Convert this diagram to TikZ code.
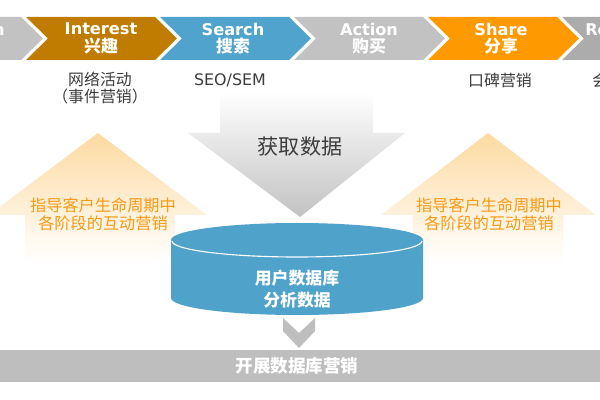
\documentclass[tikz,border=0pt]{standalone}
\usepackage{fontspec}
\setmainfont{Noto Sans CJK SC}
\newfontfamily\latfont{DejaVu Sans}

\definecolor{chevgray}{RGB}{194,194,194}
\definecolor{chevbrown}{RGB}{192,124,0}
\definecolor{chevblue}{RGB}{79,163,204}
\definecolor{chevorange}{RGB}{255,153,0}
\definecolor{chevdark}{RGB}{172,172,172}
\definecolor{peach}{RGB}{253,218,160}
\definecolor{guideorange}{RGB}{247,154,22}
\definecolor{dbblue}{RGB}{79,162,202}
\definecolor{bargray}{RGB}{190,190,190}
\definecolor{darktext}{RGB}{60,60,60}

\tikzset{
    chevtitle/.style={text=white, inner sep=0pt, font=\latfont\bfseries\fontsize{11.5}{12}\selectfont},
    chevsub/.style={text=white, inner sep=0pt, font=\bfseries\fontsize{12}{12}\selectfont},
    stagenote/.style={text=darktext, inner sep=0pt, align=center, font=\fontsize{11.3}{12}\selectfont},
    guidetext/.style={text=guideorange, inner sep=0pt, align=center, font=\fontsize{11.5}{12.8}\selectfont},
    dbtext/.style={text=white, inner sep=0pt, align=center, font=\bfseries\fontsize{12}{15.6}\selectfont},
    guidearrow/.style={top color=peach, bottom color=white},
}

\begin{document}
\begin{tikzpicture}[x=0.025cm, y=-0.025cm]

    \useasboundingbox (0,0) rectangle (600,400);
    \clip (0,0) rectangle (600,400);

    \foreach \l/\c in {-108/chevgray, 26/chevbrown, 160/chevblue, 294/chevgray, 428/chevorange, 562/chevdark}
        \fill[\c] (\l,17) -- ++(129,0) -- ++(22,21.5) -- ++(-22,21.5) -- ++(-129,0) -- ++(22,-21.5) -- cycle;

    \foreach \x/\en/\zh in {101/Interest/兴趣, 233/Search/搜索, 369/Action/购买, 501/Share/分享}
    {
        \node[chevtitle] (title-\en) at (\x,29) {\en};
        \node[chevsub] (sub-\en) at (\x,46) {\zh};
    }
    \node[chevtitle, anchor=east] (title-attention) at (5,29) {Attention};
    \node[chevtitle, anchor=west] (title-retention) at (585,29) {Retention};

    \node[stagenote] (note-interest) at (100,88) {网络活动\\（事件营销）};
    \node[stagenote, font=\latfont\fontsize{11.3}{12}\selectfont] (note-search) at (230,80) {SEO/SEM};
    \node[stagenote] (note-share) at (500,80) {口碑营销};
    \node[stagenote, anchor=west] (note-retention) at (592,80) {会员营销};

    \shade[top color=white, bottom color=black!24]
        (220,92) -- (373,92) -- (373,133) -- (405,133) -- (300,217) -- (188,133) -- (220,133) -- cycle;
    \node[text=darktext, inner sep=0pt, font=\fontsize{15}{15}\selectfont] (fetch) at (300,147) {获取数据};

    \shade[guidearrow] (25,262) -- (25,215) -- (-11,215) -- (98,133) -- (207,215) -- (175,215) -- (175,262) -- cycle;
    \shade[guidearrow] (413,262) -- (413,215) -- (381,215) -- (488,133) -- (596,215) -- (563,215) -- (563,262) -- cycle;
    \node[guidetext] (guide-left) at (103,214) {指导客户生命周期中\\各阶段的互动营销};
    \node[guidetext] (guide-right) at (489,214) {指导客户生命周期中\\各阶段的互动营销};

    \fill[dbblue] (171,240) -- (171,298) arc[start angle=180, end angle=0, x radius=126, y radius=17] -- (423,240) -- cycle;
    \fill[dbblue] (297,240) ellipse[x radius=126, y radius=17];
    \draw[white, line width=0.8pt] (172,241) arc[start angle=180, end angle=0, x radius=125, y radius=16];
    \node[dbtext] (db) at (297,289) {用户数据库\\分析数据};

    \fill[bargray] (283,318) -- (299,333) -- (315,318) -- (315,331) -- (299,348) -- (283,331) -- cycle;
    \fill[bargray] (0,350) rectangle (600,382);
    \node[text=white, inner sep=0pt, font=\bfseries\fontsize{12.5}{12.5}\selectfont] (campaign) at (297,366) {开展数据库营销};

\end{tikzpicture}
\end{document}
